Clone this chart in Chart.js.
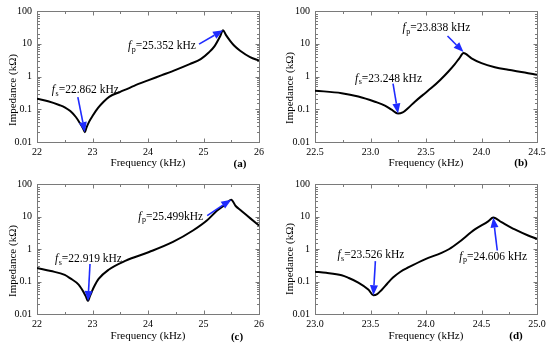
<!DOCTYPE html>
<html><head><meta charset="utf-8">
<script src="https://cdn.jsdelivr.net/npm/chart.js@4.4.0/dist/chart.umd.min.js"></script>
<style>
html,body{margin:0;padding:0;background:#fff;}
#wrap{position:relative;width:550px;height:346px;overflow:hidden;background:#fff;}
.p{position:absolute;width:275px;height:173px;}
canvas{display:block;}
</style></head><body>
<div id="wrap">
<div class="p" style="left:0;top:0"><canvas id="ca" width="275" height="173"></canvas></div>
<div class="p" style="left:275px;top:0"><canvas id="cb" width="275" height="173"></canvas></div>
<div class="p" style="left:0;top:173px"><canvas id="cc" width="275" height="173"></canvas></div>
<div class="p" style="left:275px;top:173px"><canvas id="cd" width="275" height="173"></canvas></div>
</div>
<script>
// ---- data (frequency in kHz, impedance in kΩ) ----
const freqA = [22.0, 22.2, 22.4, 22.5, 22.6, 22.7, 22.78, 22.83, 22.862, 22.89, 22.94, 23.0, 23.1, 23.2, 23.3, 23.5, 23.75, 24.0, 24.25, 24.5, 24.75, 24.95, 25.1, 25.2, 25.3, 25.352, 25.4, 25.48, 25.56, 25.66, 25.84, 26.0];
const impA  = [0.21, 0.175, 0.135, 0.115, 0.088, 0.058, 0.036, 0.026, 0.02, 0.027, 0.042, 0.062, 0.11, 0.17, 0.24, 0.34, 0.52, 0.76, 1.1, 1.6, 2.4, 3.4, 5.5, 8.5, 17, 26, 19, 12.3, 8.5, 6.1, 3.9, 3.05];
const freqB = [22.5, 22.74, 22.89, 23.04, 23.13, 23.19, 23.248, 23.29, 23.34, 23.40, 23.47, 23.55, 23.63, 23.70, 23.76, 23.80, 23.838, 23.91, 24.0, 24.12, 24.24, 24.39, 24.5];
const impB  = [0.37, 0.31, 0.245, 0.17, 0.13, 0.097, 0.074, 0.08, 0.11, 0.17, 0.27, 0.45, 0.8, 1.4, 2.4, 3.6, 5.2, 3.6, 2.55, 1.92, 1.6, 1.32, 1.12];
const freqC = [22.0, 22.25, 22.5, 22.6, 22.75, 22.84, 22.88, 22.919, 22.95, 22.99, 23.03, 23.11, 23.29, 23.6, 24.02, 24.45, 24.81, 25.06, 25.24, 25.4, 25.499, 25.58, 25.67, 25.85, 26.0];
const impC  = [0.26, 0.21, 0.16, 0.125, 0.08, 0.047, 0.035, 0.025, 0.034, 0.05, 0.07, 0.12, 0.23, 0.44, 0.81, 1.65, 3.7, 7.5, 15, 24, 33, 21, 15.5, 8.6, 5.3];
const freqD = [23.0, 23.1, 23.24, 23.3, 23.39, 23.48, 23.526, 23.56, 23.6, 23.65, 23.7, 23.77, 23.84, 23.99, 24.14, 24.21, 24.29, 24.44, 24.56, 24.606, 24.68, 24.8, 24.92, 25.0];
const impD  = [0.2, 0.185, 0.155, 0.13, 0.093, 0.057, 0.038, 0.041, 0.055, 0.085, 0.13, 0.2, 0.27, 0.48, 0.76, 1.0, 1.55, 4.0, 7.1, 9.3, 6.7, 4.0, 2.6, 2.05];

const resA = [22.862, 25.352];
const resB = [23.248, 23.838];
const resC = [22.919, 25.499];
const resD = [23.526, 24.606];
const textA = ['=22.862 kHz', '=25.352 kHz'];
const textB = ['=23.248 kHz', '=23.838 kHz'];
const textC = ['=22.919 kHz', '=25.499kHz'];
const textD = ['=23.526 kHz', '=24.606 kHz'];
const panelLetters = ['(a)', '(b)', '(c)', '(d)'];
const xTitle = 'Frequency (kHz)';
const yTitle = 'Impedance (kΩ)';

// ---- styling ----
const FONT = "'Liberation Serif','Times New Roman',serif";
const BLUE = '#1f2bff';
const FRAME = '#7a7a7a';

function isDecade(v){ const l = Math.log10(v); return Math.abs(l - Math.round(l)) < 1e-6; }

function arrow(ctx, x0, y0, x1, y1){
  const ang = Math.atan2(y1 - y0, x1 - x0), L = 10, W = 4;
  const bx = x1 - L*Math.cos(ang), by = y1 - L*Math.sin(ang);
  ctx.strokeStyle = BLUE; ctx.fillStyle = BLUE; ctx.lineWidth = 1.6;
  ctx.beginPath(); ctx.moveTo(x0, y0); ctx.lineTo(bx, by); ctx.stroke();
  ctx.beginPath(); ctx.moveTo(x1, y1);
  ctx.lineTo(bx - W*Math.sin(ang), by + W*Math.cos(ang));
  ctx.lineTo(bx + W*Math.sin(ang), by - W*Math.cos(ang));
  ctx.closePath(); ctx.fill();
}

function richLabel(ctx, x, yMid, sub, rest){
  ctx.fillStyle = '#000'; ctx.textBaseline = 'middle'; ctx.textAlign = 'left';
  ctx.font = 'italic 11.5px ' + FONT; ctx.fillText('f', x, yMid); x += ctx.measureText('f').width + 0.5;
  ctx.font = '8px ' + FONT; ctx.fillText(sub, x, yMid + 3.5); x += ctx.measureText(sub).width;
  ctx.font = '11.5px ' + FONT; ctx.fillText(rest, x, yMid);
}

function makeDeco(cfg){
  return {
    id: 'deco',
    beforeDatasetsDraw(chart){
      const {ctx, chartArea: a, scales: {x, y}} = chart;
      ctx.save();
      ctx.strokeStyle = FRAME; ctx.lineWidth = 1;
      const L = Math.round(a.left) + 0.5, R = Math.round(a.right) + 0.5, T = Math.round(a.top) + 0.5, B = Math.round(a.bottom) + 0.5;
      ctx.strokeRect(L, T, R - L, B - T);
      ctx.beginPath();
      x.ticks.forEach(t => {
        const px = Math.round(x.getPixelForValue(t.value)) + 0.5;
        if (px <= L + 1 || px >= R - 1) return;
        const len = t.label !== '' ? 4 : 2.5;
        ctx.moveTo(px, B); ctx.lineTo(px, B - len);
        ctx.moveTo(px, T); ctx.lineTo(px, T + len);
      });
      y.ticks.forEach(t => {
        const py = Math.round(y.getPixelForValue(t.value)) + 0.5;
        if (py <= T + 1 || py >= B - 1) return;
        const len = isDecade(t.value) ? 4 : 2.5;
        ctx.moveTo(L, py); ctx.lineTo(L + len, py);
        ctx.moveTo(R, py); ctx.lineTo(R - len, py);
      });
      ctx.stroke();
      ctx.restore();
    },
    afterDatasetsDraw(chart){
      const {ctx, scales: {x, y}} = chart;
      ctx.save();
      cfg.res.forEach((f, i) => {
        const k = cfg.freq.indexOf(f);
        const tx = x.getPixelForValue(f), ty = y.getPixelForValue(cfg.imp[k]) + cfg.tipDy[i];
        const st = cfg.ann[i];
        arrow(ctx, tx + st.tail[0], ty + st.tail[1], tx, ty);
        richLabel(ctx, tx + st.text[0], ty + st.text[1], i === 0 ? 's' : 'p', cfg.text[i]);
      });
      // y title
      ctx.save();
      ctx.translate(cfg.yTitlePos[0], cfg.yTitlePos[1]);
      ctx.rotate(-Math.PI/2);
      ctx.font = '11px ' + FONT; ctx.fillStyle = '#000'; ctx.textAlign = 'center'; ctx.textBaseline = 'middle';
      ctx.fillText(yTitle, 0, 0);
      ctx.restore();
      // panel letter
      ctx.font = 'bold 11px ' + FONT; ctx.fillStyle = '#000'; ctx.textAlign = 'center'; ctx.textBaseline = 'middle';
      ctx.fillText(cfg.letter, cfg.letterPos[0], cfg.letterPos[1]);
      ctx.restore();
    }
  };
}

function makeChart(id, cfg){
  return new Chart(document.getElementById(id), {
    type: 'line',
    data: { datasets: [{ data: cfg.freq.map((f, i) => ({x: f, y: cfg.imp[i]})),
      borderColor: '#000', borderWidth: 2, pointRadius: 0, cubicInterpolationMode: 'monotone', fill: false }] },
    options: {
      responsive: false, animation: false, devicePixelRatio: 1,
      layout: { padding: { left: 0, right: cfg.padRight, top: 10, bottom: 0 } },
      plugins: { legend: { display: false }, tooltip: { enabled: false } },
      scales: {
        x: { type: 'linear', min: cfg.xMin, max: cfg.xMax,
          grid: { display: false, drawTicks: false, tickLength: 0 }, border: { display: false },
          ticks: { stepSize: cfg.step, autoSkip: false, maxRotation: 0, padding: 4, color: '#000',
            font: { family: FONT, size: 10 }, callback: cfg.xLabel },
          title: { display: true, text: xTitle, color: '#000', font: { family: FONT, size: 11 }, padding: { top: 0, bottom: 3 } },
          afterFit: s => { s.height = cfg.xH; } },
        y: { type: 'logarithmic', min: 0.01, max: 100,
          grid: { display: false, drawTicks: false, tickLength: 0 }, border: { display: false },
          ticks: { autoSkip: false, padding: 5, color: '#000', font: { family: FONT, size: 10 },
            callback: v => isDecade(v) ? String(v) : '' },
          afterFit: s => { s.width = cfg.yW; } }
      }
    },
    plugins: [makeDeco(cfg)]
  });
}

const intLabel = v => Math.abs(v - Math.round(v)) < 1e-6 ? String(Math.round(v)) : '';
const halfLabel = v => Math.abs(v*2 - Math.round(v*2)) < 1e-6 ? v.toFixed(1) : '';

makeChart('ca', { freq: freqA, imp: impA, res: resA, text: textA, letter: panelLetters[0],
  xMin: 22, xMax: 26, step: 0.5, xLabel: intLabel, yW: 37, padRight: 16, xH: 31,
  tipDy: [0, 0], ann: [ { tail: [-7, -35], text: [-33, -42] }, { tail: [-24, 14], text: [-95, 16] } ],
  yTitlePos: [13, 90], letterPos: [240, 164] });
makeChart('cb', { freq: freqB, imp: impB, res: resB, text: textB, letter: panelLetters[1],
  xMin: 22.5, xMax: 24.5, step: 0.25, xLabel: halfLabel, yW: 40, padRight: 13, xH: 31,
  tipDy: [0, -1], ann: [ { tail: [-5, -30], text: [-43, -35] }, { tail: [-16, -16], text: [-61, -24] } ],
  yTitlePos: [15, 88], letterPos: [246, 163] });
makeChart('cc', { freq: freqC, imp: impC, res: resC, text: textC, letter: panelLetters[2],
  xMin: 22, xMax: 26, step: 0.5, xLabel: intLabel, yW: 37, padRight: 16, xH: 32,
  tipDy: [0, 0], ann: [ { tail: [2, -37], text: [-33, -42] }, { tail: [-24, 16], text: [-93, 17] } ],
  yTitlePos: [13, 88], letterPos: [237, 164] });
makeChart('cd', { freq: freqD, imp: impD, res: resD, text: textD, letter: panelLetters[3],
  xMin: 23, xMax: 25, step: 0.25, xLabel: halfLabel, yW: 40, padRight: 13, xH: 32,
  tipDy: [0, 0], ann: [ { tail: [2, -34], text: [-36, -40] }, { tail: [4, 33], text: [-34, 39] } ],
  yTitlePos: [15, 86], letterPos: [241, 163] });
</script>
</body></html>
